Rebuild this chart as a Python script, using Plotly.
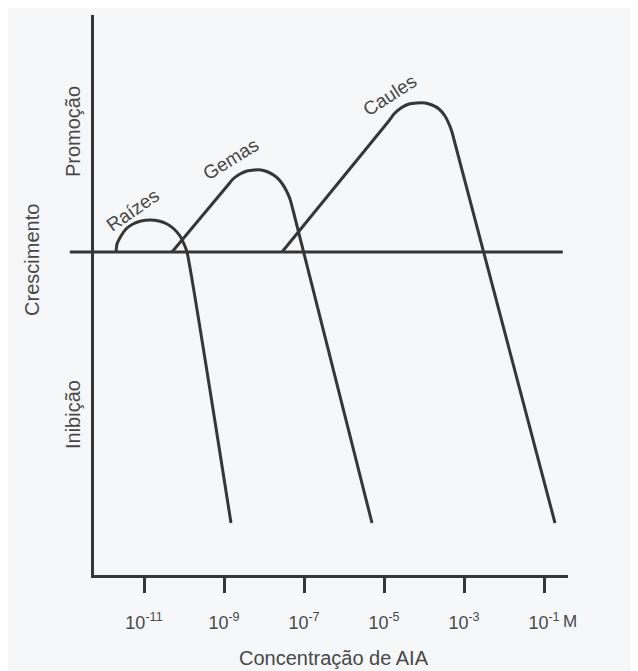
import plotly.graph_objects as go

# x = log10 of AIA concentration (M); y = growth (arbitrary units, + promotion / - inhibition)
raizes_x = [-11.70, -11.675, -11.575, -11.45, -11.275, -11.075, -10.85, -10.625, -10.425,
            -10.25, -10.10, -10.00, -9.925, -8.825]
raizes_y = [0.0, 0.8, 1.6, 2.3, 2.8, 3.1, 3.2, 3.1, 2.8, 2.3, 1.6, 0.8, 0.0, -27.1]

gemas_x = [-10.30, -8.90, -8.775, -8.60, -8.425, -8.25, -8.075, -7.90, -7.725, -7.575,
           -7.45, -7.35, -7.275, -5.30]
gemas_y = [0.0, 6.7, 7.3, 7.8, 8.1, 8.2, 8.2, 8.0, 7.6, 7.0, 6.2, 5.3, 4.2, -27.1]

caules_x = [-7.55, -4.90, -4.75, -4.575, -4.375, -4.175, -3.975, -3.80, -3.625, -3.475,
            -3.375, -3.30, -0.725]
caules_y = [0.0, 13.0, 13.8, 14.4, 14.8, 14.9, 14.9, 14.7, 14.3, 13.6, 12.8, 12.0, -27.1]

tick_vals = [-11, -9, -7, -5, -3, -1]
tick_text = ["10<sup>-11</sup>", "10<sup>-9</sup>", "10<sup>-7</sup>",
             "10<sup>-5</sup>", "10<sup>-3</sup>", "10<sup>-1</sup>"]

INK = "#363636"
TXT = "#484848"
FONT = "Liberation Sans, Arial, sans-serif"

fig = go.Figure()
for xs, ys in [(raizes_x, raizes_y), (gemas_x, gemas_y), (caules_x, caules_y)]:
    fig.add_trace(go.Scatter(x=xs, y=ys, mode="lines",
                             line=dict(color=INK, width=3, shape="spline", smoothing=0.5),
                             hoverinfo="skip", showlegend=False))

# zero line (extends left past the y axis)
fig.add_shape(type="line", xref="paper", yref="y", x0=-0.051, x1=0.989, y0=0, y1=0,
              line=dict(color=INK, width=3), layer="above")

ann = [
    dict(text="Raízes", x=-11.3, y=4.2, textangle=-35),
    dict(text="Gemas", x=-8.85, y=9.3, textangle=-32),
    dict(text="Caules", x=-4.875, y=15.7, textangle=-33),
]
for a in ann:
    fig.add_annotation(xref="x", yref="y", showarrow=False,
                       font=dict(family=FONT, size=19, color=TXT), **a)

side = [
    dict(text="Promoção", x=-0.0443, y=0.791, textangle=-90, size=20),
    dict(text="Crescimento", x=-0.131, y=0.5625, textangle=-90, size=20),
    dict(text="Inibição", x=-0.0443, y=0.2857, textangle=-90, size=20),
    dict(text="Concentração de AIA", x=0.506, y=-0.148, textangle=0, size=20),
    dict(text="M", x=1.004, y=-0.083, textangle=0, size=17),
]
for a in side:
    s = a.pop("size")
    fig.add_annotation(xref="paper", yref="paper", showarrow=False,
                       xanchor="center", yanchor="middle",
                       font=dict(family=FONT, size=s, color=TXT), **a)

# page has an 8px body margin: figure is offset by 8px, so size/margins compensate
fig.update_layout(
    width=630, height=663,
    margin=dict(l=86, r=70, t=7, b=96),
    paper_bgcolor="#f6f7f9", plot_bgcolor="rgba(0,0,0,0)",
    font=dict(family=FONT, color=TXT),
    xaxis=dict(range=[-12.25, -0.4], showgrid=False, zeroline=False,
               showline=True, linewidth=3, linecolor=INK,
               tickmode="array", tickvals=tick_vals, ticktext=tick_text,
               ticks="outside", ticklen=15, tickwidth=3, tickcolor=INK,
               tickfont=dict(family=FONT, size=18, color=TXT),
               ticklabelstandoff=14),
    yaxis=dict(range=[-32.3, 23.7], showgrid=False, zeroline=False,
               showline=True, linewidth=3, linecolor=INK,
               showticklabels=False, ticks=""),
)

fig.write_html("out.html")
